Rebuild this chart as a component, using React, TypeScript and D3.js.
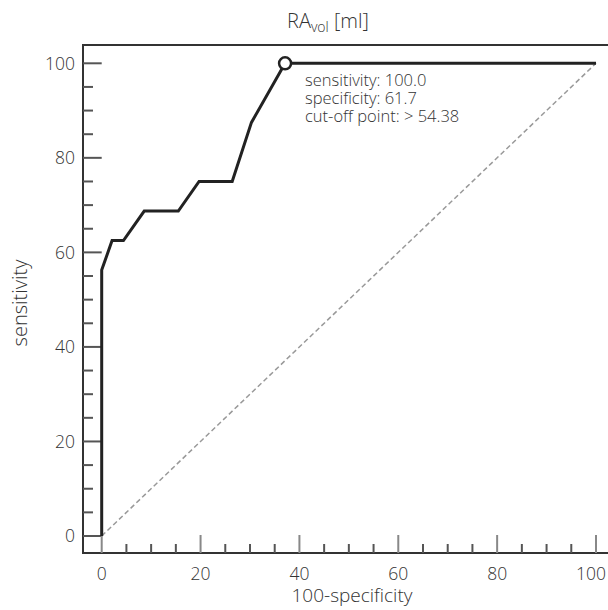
import React from "react";
import * as d3 from "d3";

const fprVals = [0, 0, 2.1, 4.4, 8.6, 15.5, 19.7, 26.4, 30.3, 37.1, 100];
const tprVals = [0, 56.25, 62.5, 62.5, 68.75, 68.75, 75, 75, 87.5, 100, 100];
const majorTicks = [0, 20, 40, 60, 80, 100];
const minorTicks = d3.range(0, 101, 5).filter((v) => v % 20 !== 0);
const cutoff = { fpr: 37.1, tpr: 100 };
const annotation = ["sensitivity: 100.0", "specificity: 61.7", "cut-off point: > 54.38"];

const FONT = "'Open Sans', 'DejaVu Sans', sans-serif";

export default function App() {
  const W = 608, H = 610;
  const left = 83, top = 45, bottom = 553, right = 610;
  const x = d3.scaleLinear().domain([0, 100]).range([101.7, 596]);
  const y = d3.scaleLinear().domain([0, 100]).range([536, 63.3]);
  const pts: [number, number][] = fprVals.map((v, i) => [v, tprVals[i]]);
  const line = d3.line<[number, number]>().x((d) => x(d[0])).y((d) => y(d[1]));
  const textCol = "#333";
  return (
    <svg width={W} height={H} style={{ position: "absolute", left: 0, top: 0, background: "#fff" }}>
      {/* diagonal */}
      <line x1={x(0)} y1={y(0)} x2={x(100)} y2={y(100)} stroke="#999" strokeWidth={1.5} strokeDasharray="5,3" />
      {/* frame */}
      <path d={`M${right},${top}H${left}V${bottom}H${right}`} fill="none" stroke="#333" strokeWidth={2} />
      {/* y ticks */}
      {majorTicks.map((v) => (
        <line key={"ym" + v} x1={left} x2={x(0)} y1={y(v)} y2={y(v)} stroke="#555" strokeWidth={2} />
      ))}
      {minorTicks.map((v) => (
        <line key={"yn" + v} x1={left} x2={left + 10} y1={y(v)} y2={y(v)} stroke="#555" strokeWidth={2} />
      ))}
      {/* x ticks */}
      {majorTicks.map((v) => (
        <line key={"xm" + v} x1={x(v)} x2={x(v)} y1={bottom} y2={bottom - 18} stroke="#888" strokeWidth={2} />
      ))}
      {minorTicks.map((v) => (
        <line key={"xn" + v} x1={x(v)} x2={x(v)} y1={bottom} y2={bottom - 9} stroke="#555" strokeWidth={2} />
      ))}
      {/* tick labels */}
      {majorTicks.map((v) => (
        <text key={"xl" + v} x={v === 100 ? 591 : x(v)} y={579.5} textAnchor="middle" fontFamily={FONT} fontWeight={300} fontSize={17.5} fill={textCol}>
          {v}
        </text>
      ))}
      {majorTicks.map((v) => (
        <text key={"yl" + v} x={75} y={y(v)} dy="0.36em" textAnchor="end" fontFamily={FONT} fontWeight={300} fontSize={17.5} fill={textCol}>
          {v}
        </text>
      ))}
      {/* curve */}
      <path d={line(pts) || ""} fill="none" stroke="#222" strokeWidth={3} strokeLinejoin="miter" />
      <circle cx={x(cutoff.fpr)} cy={y(cutoff.tpr)} r={6} fill="#fff" stroke="#222" strokeWidth={2.5} />
      {/* annotation */}
      {annotation.map((t, i) => (
        <text key={t} x={305} y={85.5 + i * 18} fontFamily={FONT} fontWeight={300} fontSize={16.5} fill={textCol}>
          {t}
        </text>
      ))}
      {/* axis titles */}
      <text x={352} y={602} textAnchor="middle" fontFamily={FONT} fontWeight={300} fontSize={19} fill={textCol}>
        100-specificity
      </text>
      <text transform={`translate(27,303) rotate(-90)`} textAnchor="middle" fontFamily={FONT} fontWeight={300} fontSize={20} fill={textCol}>
        sensitivity
      </text>
      <text x={287} y={28} textAnchor="start" fontFamily={FONT} fontWeight={300} fontSize={20} fill={textCol}>
        RA<tspan fontSize={14} dy={4}>vol</tspan>
        <tspan dy={-4}> [ml]</tspan>
      </text>
    </svg>
  );
}
